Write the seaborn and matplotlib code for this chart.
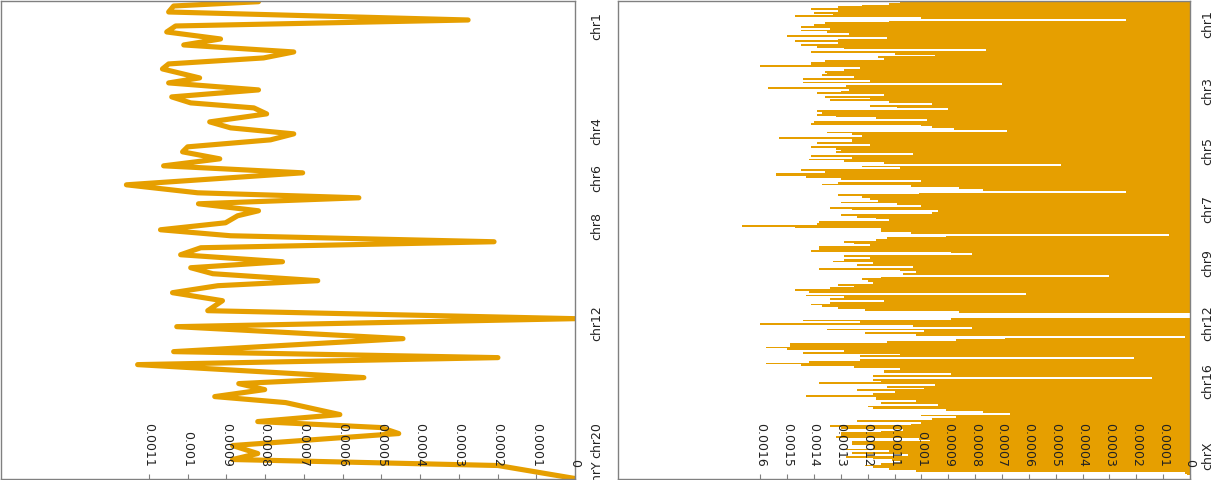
import matplotlib
matplotlib.use('Agg')
import matplotlib.pyplot as plt
import pandas as pd
import seaborn as sns

ORANGE = '#E69F00'
SPINE = '#808080'

# ---------------- left panel: line (genome bin position vs value) ----------------
line_pos = [0.7, 5, 11, 19, 25, 31, 38, 44, 51, 57,
            63, 68, 77, 82, 89, 96, 102, 107, 113, 121,
            127, 133, 139, 146, 151, 158, 165, 172, 184, 192,
            197, 203, 210, 215, 222, 229, 235, 241, 247, 254,
            261, 267, 273, 280, 285, 292, 300, 310, 318, 326,
            338, 351, 357, 364, 377, 383, 389, 396, 402, 414,
            421, 427, 433, 445, 453, 459, 465, 478]
line_vals = [8.17e-4, 10.36e-4, 10.49e-4, 2.76e-4, 10.31e-4, 10.54e-4, 9.15e-4, 10.10e-4, 7.26e-4, 8.04e-4,
             10.49e-4, 10.65e-4, 9.69e-4, 10.49e-4, 8.17e-4, 10.41e-4, 9.92e-4, 8.29e-4, 7.96e-4, 9.43e-4,
             8.89e-4, 7.26e-4, 7.86e-4, 10.0e-4, 10.13e-4, 9.17e-4, 10.62e-4, 7.03e-4, 11.58e-4, 9.74e-4,
             5.58e-4, 9.72e-4, 8.17e-4, 8.71e-4, 9.02e-4, 10.70e-4, 8.89e-4, 2.09e-4, 9.66e-4, 10.18e-4,
             7.55e-4, 9.92e-4, 9.35e-4, 6.64e-4, 9.22e-4, 10.39e-4, 9.10e-4, 9.48e-4, 0.0, 10.28e-4,
             4.44e-4, 10.36e-4, 1.99e-4, 11.29e-4, 5.45e-4, 8.68e-4, 8.01e-4, 9.30e-4, 7.47e-4, 6.07e-4,
             8.19e-4, 5.01e-4, 4.55e-4, 8.84e-4, 8.19e-4, 8.84e-4, 1.99e-4, 0.0]

left_xticks = [0, 1e-4, 2e-4, 3e-4, 4e-4, 5e-4, 6e-4, 7e-4, 8e-4, 9e-4, 10e-4, 11e-4]
left_xticklabels = ['0', '0.0001', '0.0002', '0.0003', '0.0004', '0.0005', '0.0006',
                    '0.0007', '0.0008', '0.0009', '0.001', '0.0011']
left_chroms = ['chr1', 'chr4', 'chr6', 'chr8', 'chr12', 'chr20', 'chrY']
left_chrom_pos = [25, 130, 177, 225, 322, 440, 474]

# ---------------- right panel: bars (one per genome bin) ----------------
bar_vals = [
    # top block
    10.8e-4, 11.2e-4, 12.2e-4, 13.1e-4, 14.1e-4, 13.1e-4, 14.0e-4, 13.3e-4, 14.7e-4, 10.0e-4,
    2.4e-4, 11.2e-4, 13.6e-4, 14.0e-4, 14.5e-4, 13.4e-4, 14.5e-4, 13.5e-4, 12.7e-4, 15.0e-4,
    11.3e-4, 13.1e-4, 14.7e-4, 13.1e-4, 14.5e-4, 13.9e-4, 12.9e-4, 7.6e-4, 14.1e-4, 11.0e-4,
    9.5e-4, 11.6e-4, 11.4e-4, 13.6e-4, 14.1e-4, 14.1e-4, 16.0e-4, 12.3e-4, 12.9e-4, 13.6e-4,
    13.5e-4, 13.7e-4, 12.5e-4, 14.4e-4, 11.9e-4, 14.4e-4, 7.0e-4, 12.8e-4, 15.7e-4, 12.7e-4,
    13.0e-4, 13.9e-4, 11.4e-4, 13.6e-4, 11.9e-4, 13.4e-4, 11.2e-4, 9.6e-4, 11.9e-4, 10.9e-4,
    9.0e-4, 13.9e-4,
    # second block
    13.7e-4, 13.9e-4, 13.2e-4, 11.7e-4, 9.8e-4, 14.0e-4, 14.1e-4, 10.0e-4, 9.6e-4, 8.8e-4,
    6.8e-4, 13.5e-4, 12.6e-4, 12.2e-4, 15.3e-4, 12.6e-4, 12.6e-4, 13.9e-4, 11.9e-4, 14.1e-4,
    13.2e-4, 13.0e-4, 13.2e-4, 10.3e-4, 14.1e-4, 12.6e-4, 14.2e-4, 12.9e-4, 11.4e-4, 4.8e-4,
    12.2e-4, 10.8e-4, 14.5e-4, 13.6e-4, 15.4e-4, 15.4e-4, 14.3e-4, 13.0e-4, 10.0e-4, 13.1e-4,
    13.7e-4, 10.4e-4, 8.6e-4, 7.7e-4, 2.4e-4, 10.1e-4, 13.1e-4, 12.2e-4, 11.9e-4, 11.6e-4,
    13.0e-4, 10.9e-4, 10.0e-4, 13.4e-4, 12.6e-4, 9.4e-4, 9.6e-4, 13.0e-4, 12.4e-4, 11.7e-4,
    11.2e-4, 13.8e-4, 13.9e-4, 16.7e-4, 14.7e-4, 11.5e-4, 11.5e-4,
    # third block
    10.4e-4, 0.8e-4, 9.1e-4, 11.3e-4, 11.7e-4, 12.9e-4, 12.5e-4, 11.9e-4, 13.8e-4, 13.8e-4,
    14.1e-4, 8.9e-4, 8.1e-4, 12.9e-4, 11.9e-4, 12.9e-4, 13.3e-4, 11.8e-4, 12.4e-4, 10.3e-4,
    13.8e-4, 10.8e-4, 10.2e-4, 10.7e-4, 3.0e-4, 11.5e-4, 12.2e-4, 12.0e-4, 11.8e-4, 13.1e-4,
    12.5e-4, 13.4e-4, 14.7e-4, 14.2e-4, 6.1e-4, 14.3e-4, 12.9e-4, 13.4e-4, 11.4e-4, 13.4e-4,
    14.1e-4, 13.7e-4, 13.1e-4, 12.1e-4, 8.6e-4, 0.0, 0.0, 0.0, 8.9e-4, 14.4e-4,
    12.3e-4, 16.0e-4, 10.3e-4, 8.1e-4, 13.5e-4, 9.9e-4, 12.1e-4, 10.2e-4, 0.2e-4, 6.9e-4,
    8.7e-4, 11.3e-4, 14.9e-4, 14.9e-4, 15.8e-4, 15.0e-4, 12.9e-4, 14.4e-4, 10.8e-4,
    # bottom block
    12.3e-4, 2.1e-4, 12.3e-4, 14.2e-4, 15.8e-4, 14.5e-4, 12.5e-4, 10.8e-4, 11.4e-4, 11.4e-4,
    8.9e-4, 11.8e-4, 1.4e-4, 11.8e-4, 11.5e-4, 13.8e-4, 9.5e-4, 11.3e-4, 9.9e-4, 12.4e-4,
    11.0e-4, 11.8e-4, 14.3e-4, 11.7e-4, 11.7e-4, 10.2e-4, 11.5e-4, 9.4e-4, 12.0e-4, 11.8e-4,
    9.1e-4, 7.7e-4, 6.7e-4, 10.0e-4, 8.7e-4, 9.6e-4, 12.4e-4, 10.0e-4, 10.4e-4, 13.4e-4,
    13.0e-4, 10.7e-4, 11.5e-4, 13.0e-4, 13.0e-4, 13.2e-4, 10.1e-4, 9.7e-4, 12.6e-4, 12.6e-4,
    11.8e-4, 11.8e-4, 12.8e-4, 11.2e-4, 12.6e-4, 10.5e-4, 12.8e-4, 11.8e-4, 11.1e-4, 10.8e-4,
    11.5e-4, 12.1e-4, 11.8e-4, 11.2e-4, 10.2e-4, 0.2e-4, 0.1e-4, 0.0, 0.0,
]
bar_bins = list(range(len(bar_vals)))

right_xticks = [0, 1e-4, 2e-4, 3e-4, 4e-4, 5e-4, 6e-4, 7e-4, 8e-4, 9e-4, 10e-4,
                11e-4, 12e-4, 13e-4, 14e-4, 15e-4, 16e-4]
right_xticklabels = ['0', '0.0001', '0.0002', '0.0003', '0.0004', '0.0005', '0.0006',
                     '0.0007', '0.0008', '0.0009', '0.001', '0.0011', '0.0012', '0.0013',
                     '0.0014', '0.0015', '0.0016']
right_chroms = ['chr1', 'chr3', 'chr5', 'chr7', 'chr9', 'chr12', 'chr16', 'chrX']
right_chrom_pos = [12.3, 49.8, 83.3, 115.7, 145.9, 179.4, 211.8, 253.7]

# ---------------- drawing ----------------
sns.set_style('white')
plt.rcParams['font.family'] = ['DejaVu Sans']

W, H = 1222, 480
fig = plt.figure(figsize=(W / 100, H / 100), dpi=100)
ax1 = fig.add_axes([0.5 / W, 1 / H, 574.5 / W, 478 / H])
ax2 = fig.add_axes([618 / W, 1 / H, 572 / W, 478 / H])

line_df = pd.DataFrame({'pos': line_pos, 'value': line_vals})
sns.lineplot(data=line_df, x='value', y='pos', orient='y', sort=False, estimator=None,
             color=ORANGE, linewidth=3.7, ax=ax1)
ax1.set_xlim(0.001483, 0)
ax1.set_ylim(478.5, 0)

bar_df = pd.DataFrame({'bin': bar_bins, 'value': bar_vals})
sns.barplot(data=bar_df, x='value', y='bin', orient='h', color=ORANGE, saturation=1,
            width=1.0, linewidth=0, ax=ax2)
ax2.set_xlim(0.00213, 0)
ax2.set_ylim(len(bar_vals) - 0.5, -0.5)


def style(ax, xt, xtl, yt, ytl, ypad):
    ax.set_axisbelow(False)
    ax.set_xlabel('')
    ax.set_ylabel('')
    ax.set_xticks(xt)
    ax.set_xticklabels(xtl, rotation=270, va='bottom', ha='center', fontsize=9, color='#222222')
    ax.tick_params(axis='x', direction='in', length=3.6, width=0.8, color=SPINE,
                   pad=-8.6, bottom=True, top=False)
    ax.yaxis.tick_right()
    ax.set_yticks(yt)
    ax.set_yticklabels(ytl, rotation=90, va='center', ha='left', fontsize=9, color='#222222')
    ax.tick_params(axis='y', length=0, pad=ypad, left=False, right=True)
    for s in ax.spines.values():
        s.set_visible(True)
        s.set_color(SPINE)
        s.set_linewidth(1.0)
    ax.grid(False)


style(ax1, left_xticks, left_xticklabels, left_chrom_pos, left_chroms, 11)
style(ax2, right_xticks, right_xticklabels, right_chrom_pos, right_chroms, 8)

fig.savefig('out.png', dpi=100)
